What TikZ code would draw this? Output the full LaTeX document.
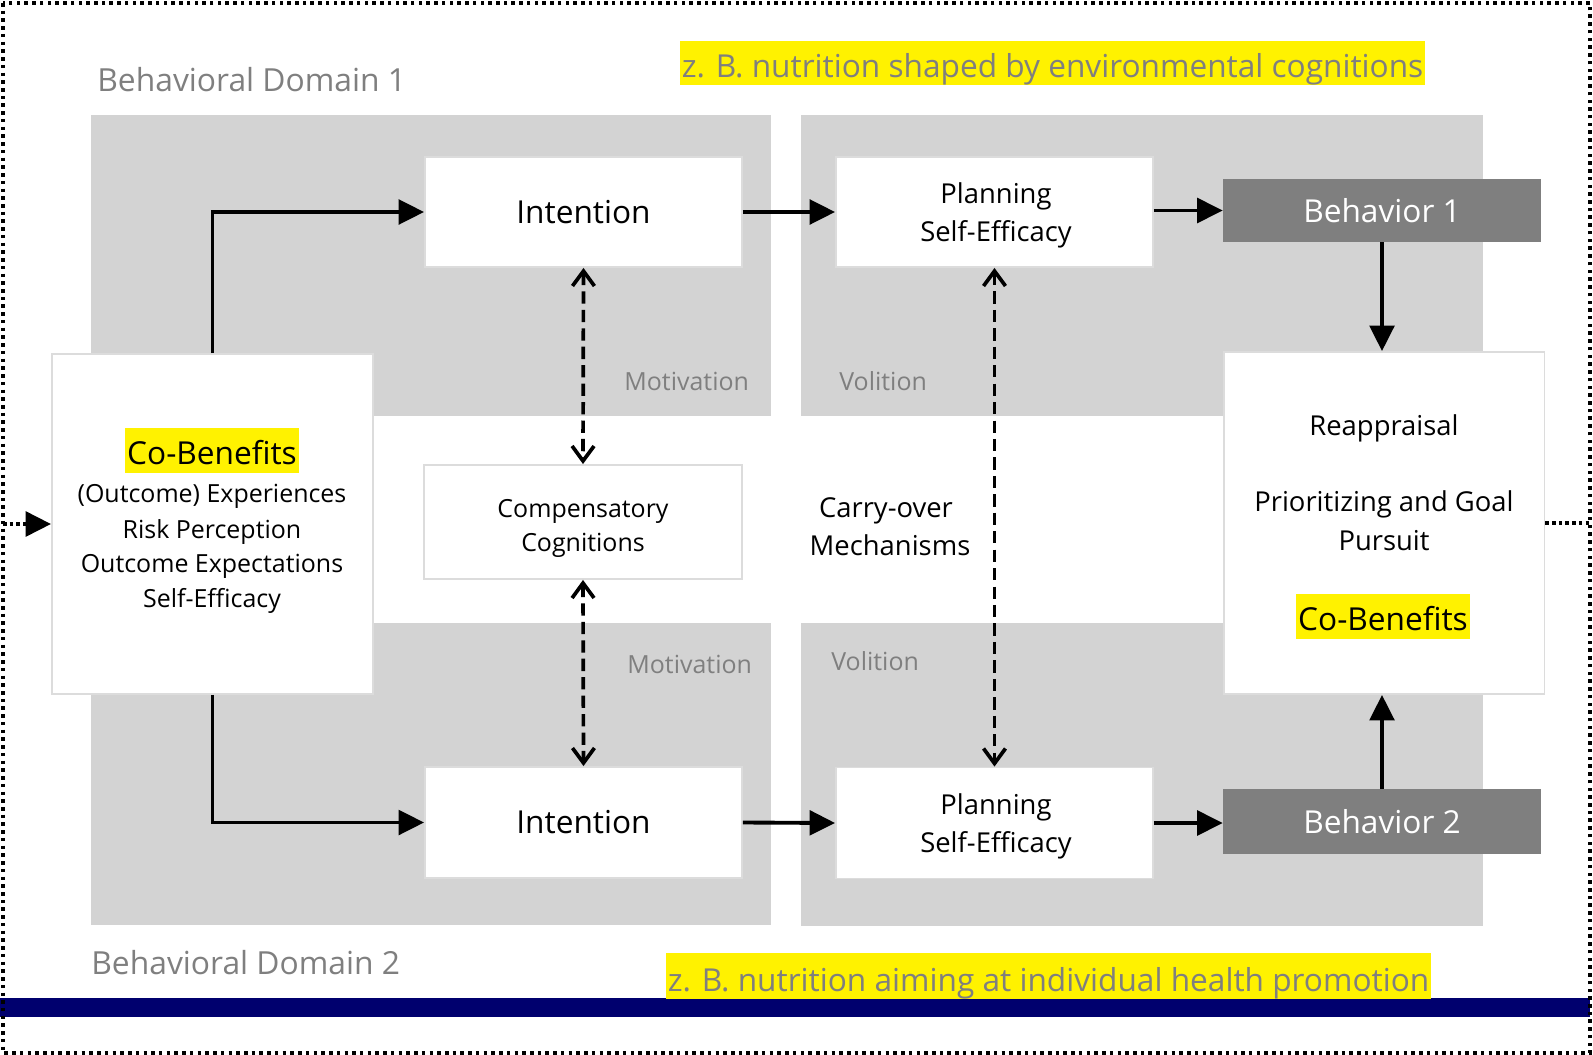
\documentclass[tikz,border=0pt]{standalone}
\usepackage{fontspec}
\setmainfont{Open Sans}
\usepackage{xcolor}
\usetikzlibrary{arrows.meta, positioning, calc}

\definecolor{panelgray}{RGB}{211,211,211}
\definecolor{boxline}{RGB}{220,220,220}
\definecolor{labelgray}{RGB}{127,127,127}
\definecolor{behavgray}{RGB}{127,127,127}
\definecolor{barblue}{RGB}{0,0,110}

\begin{document}
\begin{tikzpicture}[x=0.02cm, y=-0.02cm,
	box/.style={draw=boxline, line width=1.1pt, fill=white, inner sep=0pt},
	behav/.style={fill=behavgray, text=white, inner sep=0pt, font=\fontsize{18}{22}\selectfont},
	txt/.style={inner sep=0pt, font=\fontsize{14.2}{20}\selectfont},
	midtxt/.style={inner sep=0pt, font=\fontsize{15.6}{20}\selectfont},
	graylabel/.style={inner sep=0pt, text=labelgray, font=\fontsize{14.2}{17}\selectfont},
	domaintext/.style={inner sep=0pt, text=labelgray, font=\fontsize{18.1}{20}\selectfont},
	hilite/.style={fill=yellow, inner xsep=1pt, inner ysep=0pt, text height=20.4pt, text depth=5.1pt, font=\fontsize{18}{20}\selectfont},
	link/.style={line width=2.2pt, -{Triangle[length=14.5pt,width=14pt]}},
	twoway/.style={line width=2.1pt, dash pattern=on 7pt off 3.5pt, {Straight Barb[length=8.5pt,width=12.5pt]}-{Straight Barb[length=8.5pt,width=12.5pt]}},
	dotline/.style={line width=2.4pt, dash pattern=on 2pt off 1.8pt}]

		\useasboundingbox (0,0) rectangle (1593,1055);

		% Frame
		\fill[barblue] (0,998) rectangle (1590,1017);
		\draw[line width=2pt, dash pattern=on 2pt off 2.4pt] (3,3) rectangle (1590,1053);

		% Panels
		\fill[panelgray] (91,115) rectangle (771,416);
		\fill[panelgray] (801,115) rectangle (1483,416);
		\fill[panelgray] (91,623) rectangle (771,925);
		\fill[panelgray] (801,623) rectangle (1483,926);

		% Boxes
		\node[box, minimum width=6.42cm, minimum height=6.8cm] (cob) at (212.5,524) {};
		\node[box, minimum width=6.42cm, minimum height=6.84cm] (reap) at (1384,523) {};
		\node[box, minimum width=6.34cm, minimum height=2.2cm, font=\fontsize{18}{22}\selectfont] (int1) at (583.5,212) {Intention};
		\node[box, minimum width=6.34cm, minimum height=2.2cm] (plan1) at (994.5,212) {};
		\node[box, minimum width=6.36cm, minimum height=2.28cm] (comp) at (583,522) {};
		\node[box, minimum width=6.34cm, minimum height=2.22cm, font=\fontsize{18}{22}\selectfont] (int2) at (583.5,822.5) {Intention};
		\node[box, minimum width=6.34cm, minimum height=2.22cm] (plan2) at (994.5,823) {};
		\node[behav, minimum width=6.36cm, minimum height=1.26cm] (beh1) at (1382,210.5) {Behavior 1};
		\node[behav, minimum width=6.36cm, minimum height=1.3cm] (beh2) at (1382,821.5) {Behavior 2};

		% Co-Benefits box text
		\node[hilite, anchor=base] (cobhead) at (212,464) {Co-Benefits};
		\node[txt, anchor=base] (cobl1) at (212,502) {(Outcome) Experiences};
		\node[txt, anchor=base] (cobl2) at (212,538) {Risk Perception};
		\node[txt, anchor=base] (cobl3) at (212,572) {Outcome Expectations};
		\node[txt, anchor=base] (cobl4) at (212,607) {Self-Efficacy};

		% Box texts
		\node[midtxt, anchor=base] (plan1a) at (996,203) {Planning};
		\node[midtxt, anchor=base] (plan1b) at (996,241) {Self-Efficacy};
		\node[midtxt, anchor=base] (plan2a) at (996,814) {Planning};
		\node[midtxt, anchor=base] (plan2b) at (996,852) {Self-Efficacy};
		\node[txt, anchor=base] (compa) at (583,517) {Compensatory};
		\node[txt, anchor=base] (compb) at (583,551) {Cognitions};

		% Reappraisal box text
		\node[midtxt, anchor=base] (reapl1) at (1384,435) {Reappraisal};
		\node[midtxt, anchor=base] (reapl2) at (1384,511) {Prioritizing and Goal};
		\node[midtxt, anchor=base] (reapl3) at (1384,550) {Pursuit};
		\node[hilite, anchor=base] (reaphead) at (1383,630) {Co-Benefits};

		% Carry-over
		\node[midtxt, anchor=base] (carry1) at (886,517) {Carry-over};
		\node[midtxt, anchor=base] (carry2) at (890,555) {Mechanisms};

		% Panel labels
		\node[graylabel, anchor=base west] (mot1) at (624,390) {Motivation};
		\node[graylabel, anchor=base west] (vol1) at (839,390) {Volition};
		\node[graylabel, anchor=base west] (mot2) at (627,673) {Motivation};
		\node[graylabel, anchor=base west] (vol2) at (831,670) {Volition};

		% Domains and notes
		\node[domaintext, anchor=base west] (dom1) at (97,91) {Behavioral Domain 1};
		\node[domaintext, anchor=base west] (dom2) at (91,974) {Behavioral Domain 2};
		\node[hilite, text=labelgray, anchor=base, text height=20.4pt, text depth=4.5pt] (note1) at (1052.5,77) {z. B. nutrition shaped by environmental cognitions};
		\node[hilite, text=labelgray, anchor=base, text height=21.5pt, text depth=4.5pt] (note2) at (1048.5,991) {z. B. nutrition aiming at individual health promotion};

		% Links
		\draw[link] (cob.north) |- (int1.west);
		\draw[link] (int1.east) -- (plan1.west);
		\draw[link] (plan1.east |- beh1.west) -- (beh1.west);
		\draw[link] (beh1.south) -- (beh1.south |- reap.north);
		\draw[link] (cob.south) |- (int2.west);
		\draw[link] (int2.east) -- (plan2.west);
		\draw[link] (plan2.east) -- (plan2.east -| beh2.west);
		\draw[link] (beh2.north) -- (beh2.north |- reap.south);

		% Two-way links
		\draw[twoway] (int1.south) -- (comp.north);
		\draw[twoway] (comp.south) -- (int2.north);
		\draw[twoway] (plan1.south) -- (plan2.north);

		% Outside links
		\coordinate (inL) at (3,524);
		\coordinate (outR) at (1590,523);
		\draw[dotline, -{Triangle[length=14.5pt,width=14pt]}] (inL) -- (cob.west);
		\draw[dotline] (reap.east) -- (outR);
	\end{tikzpicture}
\end{document}
